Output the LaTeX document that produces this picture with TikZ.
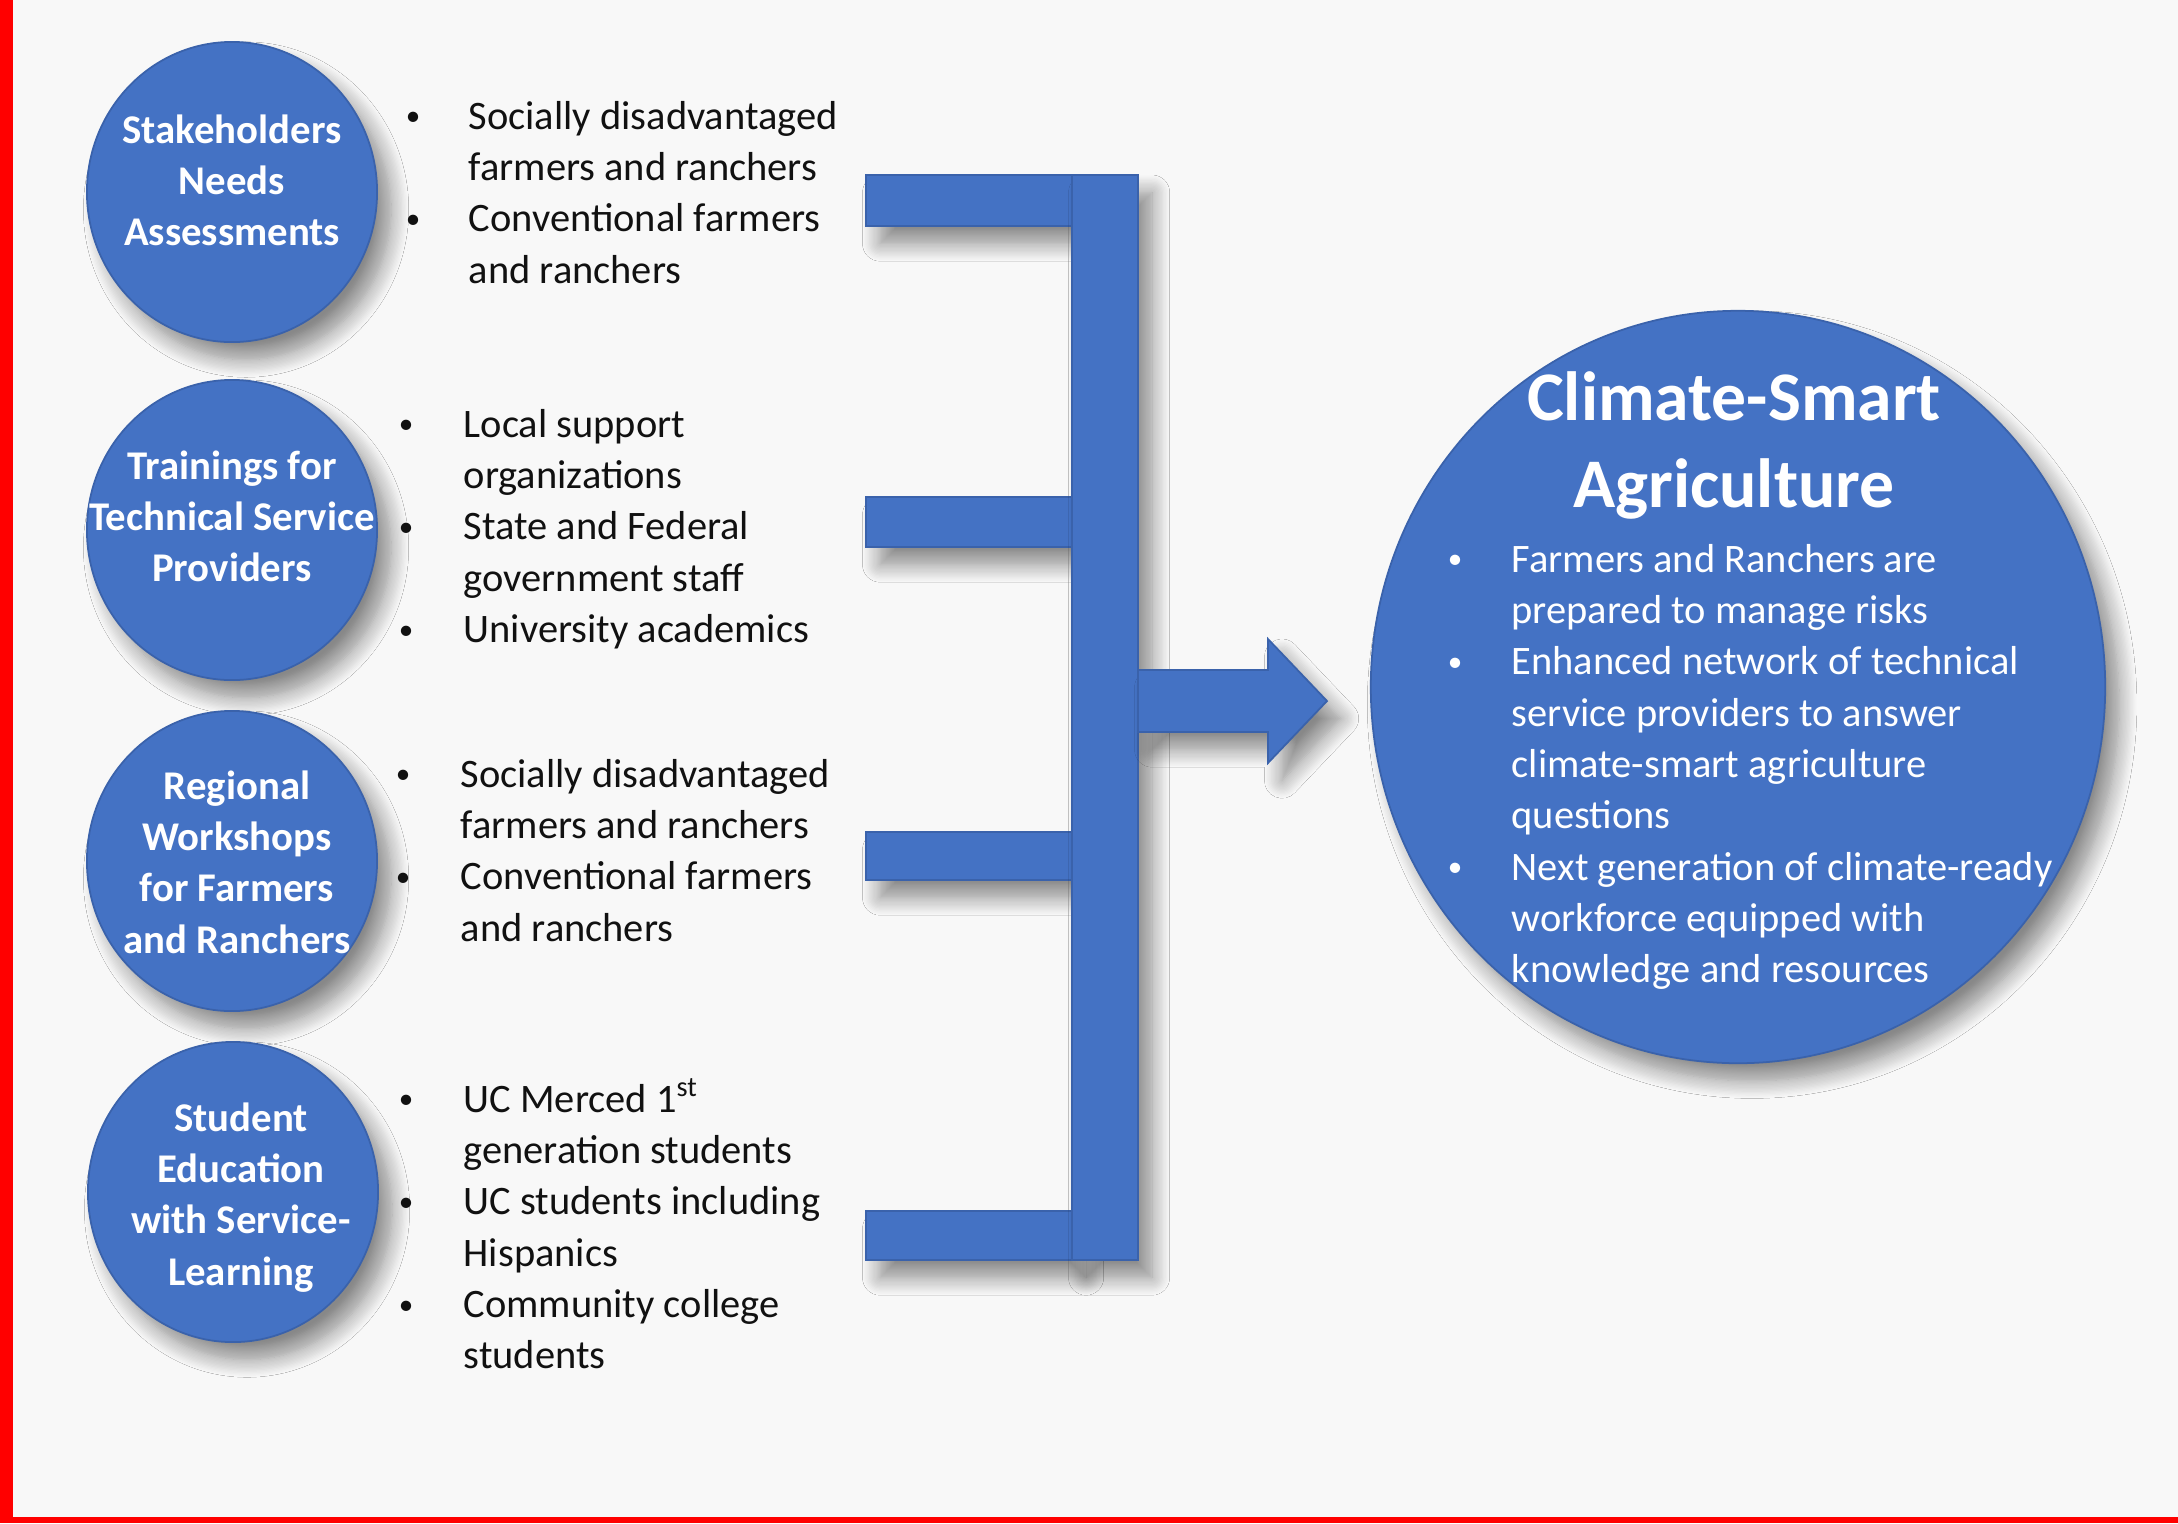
\documentclass[tikz,border=0pt]{standalone}
\usepackage{fontspec}
\setmainfont{Carlito}
\usetikzlibrary{shapes.geometric,shadows.blur}
\definecolor{pagebg}{HTML}{F8F8F8}
\definecolor{cblue}{HTML}{4472C4}
\definecolor{cedge}{HTML}{3A62AB}
\definecolor{framered}{HTML}{FF0000}
\definecolor{ink}{HTML}{111111}
% small list bullet
\newcommand\bitem{\hspace*{1.2pt}\raisebox{0.9pt}{\scalebox{0.72}{\textbullet}}}
\begin{document}
\begin{tikzpicture}[x=0.01cm,y=-0.01cm,
  softshadow/.style={blur shadow={shadow xshift=4pt,shadow yshift=-5pt,
      shadow blur radius=5pt,shadow blur steps=14,shadow opacity=45}},
  disc/.style={ellipse,fill=cblue,draw=cedge,line width=0.5pt,inner sep=0pt,softshadow},
  smalldisc/.style={disc,minimum width=2.9cm,minimum height=3.0cm},
  disclabel/.style={text=white,inner sep=0pt,anchor=base,
      font=\fontsize{11.6}{14.6}\selectfont\bfseries},
  listtext/.style={text=ink,inner sep=0pt,anchor=base west,
      font=\fontsize{11.5}{14.6}\selectfont},
  bar/.style={fill=cblue,draw=cedge,line width=0.5pt,softshadow}]

% page background and red frame
\fill[pagebg] (0,0) rectangle (2178,1523);
\fill[framered] (0,0) rectangle (13,1523);
\fill[framered] (0,1517) rectangle (2178,1523);

% activity circles
\node[smalldisc] (s1) at (232,192) {};
\node[smalldisc] (s2) at (232,530) {};
\node[smalldisc] (s3) at (232,861) {};
\node[smalldisc] (s4) at (233,1192) {};

\node[disclabel] (t1) at (232,143) {\begin{tabular}[t]{@{}c@{}}Stakeholders\\Needs\\Assessments\end{tabular}};
\node[disclabel] (t2) at (232,479) {\begin{tabular}[t]{@{}c@{}}Trainings for\\Technical Service\\Providers\end{tabular}};
\node[disclabel] (t3) at (237,799) {\begin{tabular}[t]{@{}c@{}}Regional\\Workshops\\for Farmers\\and Ranchers\end{tabular}};
\node[disclabel] (t4) at (241,1131) {\begin{tabular}[t]{@{}c@{}}Student\\Education\\with Service-\\Learning\end{tabular}};

% audience lists
\node[listtext] (l1) at (401,129) {\begin{tabular}[t]{@{}p{0.67cm}@{}l@{}}
\bitem & Socially disadvantaged\\
 & farmers and ranchers\\
\bitem & Conventional farmers\\
 & and ranchers\end{tabular}};
\node[listtext] (l2) at (394,437) {\begin{tabular}[t]{@{}p{0.69cm}@{}l@{}}
\bitem & Local support\\
 & organizations\\
\bitem & State and Federal\\
 & government staff\\
\bitem & University academics\end{tabular}};
\node[listtext] (l3) at (391,787) {\begin{tabular}[t]{@{}p{0.69cm}@{}l@{}}
\bitem & Socially disadvantaged\\
 & farmers and ranchers\\
\bitem & Conventional farmers\\
 & and ranchers\end{tabular}};
\node[listtext] (l4) at (394,1112) {\begin{tabular}[t]{@{}p{0.69cm}@{}l@{}}
\bitem & UC Merced 1\textsuperscript{st}\\
 & generation students\\
\bitem & UC students including\\
 & Hispanics\\
\bitem & Community college\\
 & students\end{tabular}};

% bracket collecting the four activities
\coordinate (spineTop) at (1072,175);
\coordinate (spineBot) at (1138,1260);
\draw[bar] (866,175) rectangle (1072,226);
\draw[bar] (866,497) rectangle (1072,547);
\draw[bar] (866,832) rectangle (1072,880);
\draw[bar] (866,1211) rectangle (1072,1260);
\draw[bar] (spineTop) rectangle (spineBot);
\draw[bar] (1138,670) -- (1268,670) -- (1268,639) -- (1327,701)
   -- (1268,763) -- (1268,732) -- (1138,732) -- cycle;

% outcome circle
\node[disc,minimum width=7.34cm,minimum height=7.52cm] (csa) at (1738,687) {};
\node[text=white,inner sep=0pt,anchor=base,
      font=\fontsize{19.8}{24.8}\selectfont\bfseries] (csatitle) at (1734,420)
  {\begin{tabular}[t]{@{}c@{}}Climate-Smart\\Agriculture\end{tabular}};
\node[listtext,text=white] (csalist) at (1443,572) {\begin{tabular}[t]{@{}p{0.68cm}@{}l@{}}
\bitem & Farmers and Ranchers are\\
 & prepared to manage risks\\
\bitem & Enhanced network of technical\\
 & service providers to answer\\
 & climate-smart agriculture\\
 & questions\\
\bitem & Next generation of climate-ready\\
 & workforce equipped with\\
 & knowledge and resources\end{tabular}};
\end{tikzpicture}
\end{document}
